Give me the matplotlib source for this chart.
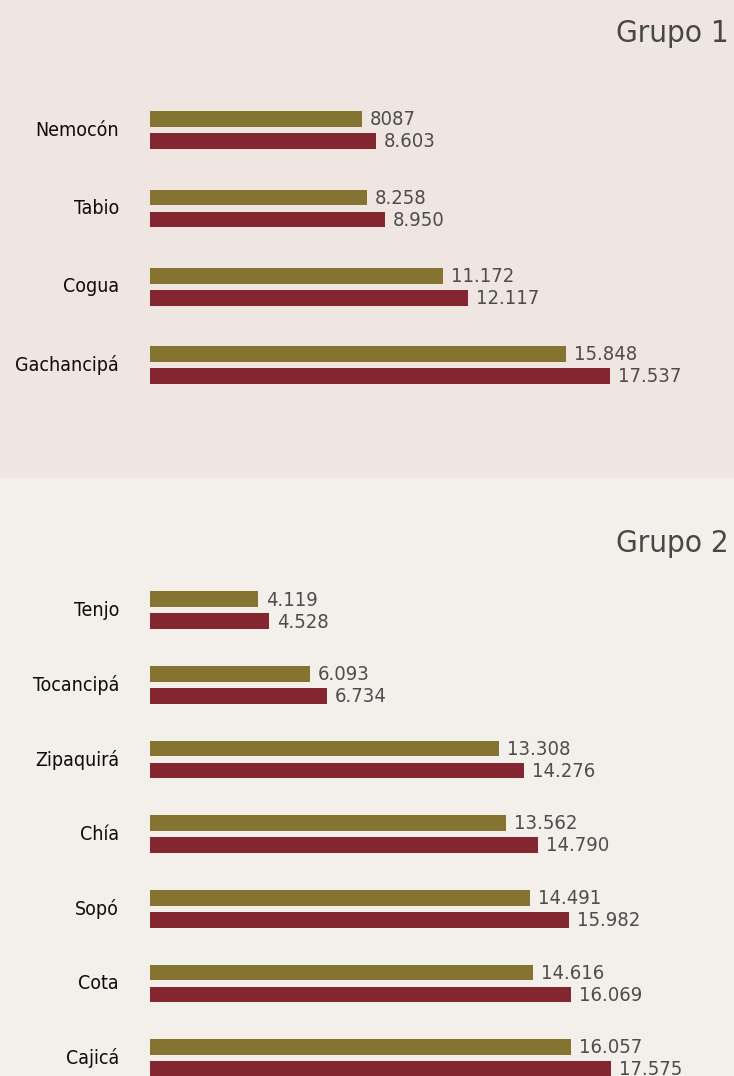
import matplotlib
matplotlib.use("Agg")
import matplotlib.pyplot as plt

plt.rcParams['font.family'] = ['DejaVu Sans']
plt.rcParams['font.stretch'] = 'condensed'

# data
grupo1_municipios = ["Nemocón", "Tabio", "Cogua", "Gachancipá"]
grupo1_serie_a = [8087, 8258, 11172, 15848]
grupo1_serie_b = [8603, 8950, 12117, 17537]
grupo1_etiq_a = ["8087", "8.258", "11.172", "15.848"]
grupo1_etiq_b = ["8.603", "8.950", "12.117", "17.537"]

grupo2_municipios = ["Tenjo", "Tocancipá", "Zipaquirá", "Chía", "Sopó", "Cota", "Cajicá"]
grupo2_serie_a = [4119, 6093, 13308, 13562, 14491, 14616, 16057]
grupo2_serie_b = [4528, 6734, 14276, 14790, 15982, 16069, 17575]
grupo2_etiq_a = ["4.119", "6.093", "13.308", "13.562", "14.491", "14.616", "16.057"]
grupo2_etiq_b = ["4.528", "6.734", "14.276", "14.790", "15.982", "16.069", "17.575"]

COLOR_A = "#857331"
COLOR_B = "#832630"
W, H = 734, 1076
PX = 0.02623  # pixels per unit on x


def draw_panel(ax, title, names, vals_a, vals_b, labs_a, labs_b, bg,
               first_px, step_px, panel_px, title_px):
    ax.set_facecolor(bg)
    y = list(range(len(names)))
    off = 11 / step_px
    hgt = 15.7 / step_px
    ax.barh([i - off for i in y], vals_a, height=hgt, color=COLOR_A)
    ax.barh([i + off for i in y], vals_b, height=hgt, color=COLOR_B)
    for i, name in enumerate(names):
        ax.text(-31 / PX, i, name, ha='right', va='center', fontsize=14,
                color='#0d0d0d')
        ax.text(vals_a[i] + 8 / PX, i - off + 0.01, labs_a[i], ha='left',
                va='center', fontsize=14.5, color='#4d4d4d', fontweight='light')
        ax.text(vals_b[i] + 8 / PX, i + off + 0.01, labs_b[i], ha='left',
                va='center', fontsize=14.5, color='#4d4d4d', fontweight='light')
    ax.set_xlim(-150 / PX, (W - 150) / PX)
    ax.set_ylim((panel_px - first_px) / step_px, -first_px / step_px)
    ax.text(729 / W, 1 - title_px / panel_px, title, transform=ax.transAxes,
            ha='right', va='baseline', fontsize=22.5, color='#474747',
            fontweight='light')
    for sp in ax.spines.values():
        sp.set_visible(False)
    ax.set_xticks([])
    ax.set_yticks([])


fig = plt.figure(figsize=(W / 100, H / 100), dpi=100)
top_h = 478
ax1 = fig.add_axes([0, 1 - top_h / H, 1, top_h / H])
ax2 = fig.add_axes([0, 0, 1, (H - top_h) / H])

draw_panel(ax1, "Grupo 1", grupo1_municipios, grupo1_serie_a, grupo1_serie_b,
           grupo1_etiq_a, grupo1_etiq_b, "#efe5e1", 130, 78.4, top_h, 41.7)
draw_panel(ax2, "Grupo 2", grupo2_municipios, grupo2_serie_a, grupo2_serie_b,
           grupo2_etiq_a, grupo2_etiq_b, "#f3efea", 132.3, 74.65, H - top_h, 73.7)

fig.savefig("out.png", dpi=100)
